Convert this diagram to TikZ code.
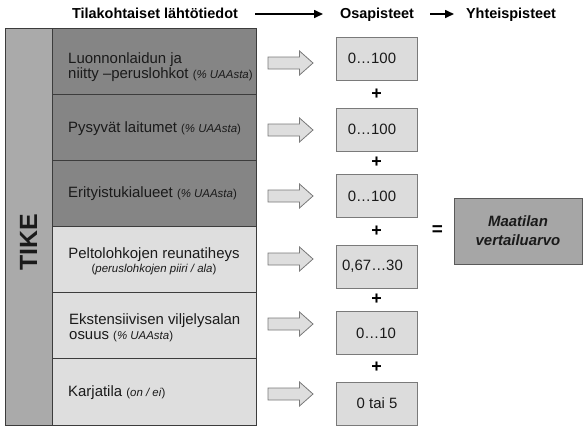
\documentclass[tikz,border=0pt]{standalone}
\usepackage{fontspec}
\setmainfont{Liberation Sans}
\usetikzlibrary{arrows.meta}
\definecolor{darkrow}{HTML}{858585}
\definecolor{lightrow}{HTML}{DEDEDE}
\definecolor{barcol}{HTML}{AAAAAA}
\definecolor{edgecol}{HTML}{3C3C3C}
\definecolor{scorefill}{HTML}{DCDCDC}
\definecolor{scoreedge}{HTML}{7A7A7A}
\definecolor{resfill}{HTML}{A6A6A6}
\definecolor{resedge}{HTML}{5A5A5A}
\definecolor{txt}{HTML}{1A1A1A}
\begin{document}
\begin{tikzpicture}[x=1bp,y=-1bp,
  rowbox/.style={draw=edgecol, line width=0.9bp, minimum width=204bp, minimum height=66.17bp, anchor=north west, inner sep=0pt, outer sep=0pt},
  darkbox/.style={rowbox, fill=darkrow},
  lightbox/.style={rowbox, fill=lightrow},
  rowtext/.style={anchor=base west, inner sep=0pt, text=txt, font=\fontsize{15}{18}\selectfont},
  rowtextc/.style={anchor=base, inner sep=0pt, text=txt, font=\fontsize{15}{18}\selectfont},
  smalltext/.style={anchor=base, inner sep=0pt, text=txt, font=\fontsize{11.5}{13}\selectfont},
  header/.style={anchor=base, inner sep=0pt, font=\fontsize{14.5}{17}\selectfont\bfseries},
  harrow/.style={line width=1.6bp, -{Triangle[length=9bp,width=8bp]}},
  scorebox/.style={draw=scoreedge, fill=scorefill, line width=0.9bp, minimum width=81bp, minimum height=43bp, inner sep=0pt},
  scoretext/.style={inner sep=0pt, text=txt, font=\fontsize{15}{18}\selectfont},
  plussign/.style={inner sep=0pt, font=\fontsize{18}{18}\selectfont\bfseries},
  barrowstyle/.style={draw=scoreedge, fill=lightrow, line width=0.8bp, line join=miter},
  barrow/.pic={\draw[barrowstyle] (-22.5,-6) -- (9,-6) -- (9,-12) -- (22.5,0) -- (9,12) -- (9,6) -- (-22.5,6) -- cycle;}
]
\useasboundingbox (0,0) rectangle (588,432);
\fill[white] (0,0) rectangle (588,432);

% header
\node[header] (h1) at (155,18) {Tilakohtaiset lähtötiedot};
\node[header] (h2) at (377,18) {Osapisteet};
\node[header] (h3) at (511,18) {Yhteispisteet};
\coordinate (ha1) at (255,14);
\coordinate (hb1) at (323,14);
\coordinate (ha2) at (430,14);
\coordinate (hb2) at (454,14);
\draw[harrow] (ha1) -- (hb1);
\draw[harrow] (ha2) -- (hb2);

% TIKE bar
\node[draw=edgecol, fill=barcol, line width=0.9bp, minimum width=47bp, minimum height=397bp, anchor=north west, inner sep=0pt, outer sep=0pt] (bar) at (5,28) {};
\node[rotate=90, inner sep=0pt, font=\fontsize{25}{26}\selectfont\bfseries, text=txt] (tike) at (28.5,242) {TIKE};

% rows
\node[darkbox] (r1) at (52,28) {};
\node[darkbox] (r2) at (52,94.17) {};
\node[darkbox] (r3) at (52,160.34) {};
\node[lightbox] (r4) at (52,226.51) {};
\node[lightbox] (r5) at (52,292.68) {};
\node[lightbox] (r6) at (52,358.85) {};

% row texts
\newcommand{\smallpct}{{\fontsize{11.5}{13}\selectfont(\textit{\% UAAsta})}}
\node[rowtext] (t1a) at (68,63) {Luonnonlaidun ja};
\node[rowtext] (t1b) at (68,78.5) {niitty –peruslohkot \smallpct};
\node[rowtext] (t2) at (68,132) {Pysyvät laitumet \smallpct};
\node[rowtext] (t3) at (68,197) {Erityistukialueet \smallpct};
\node[rowtextc] (t4a) at (154,258) {Peltolohkojen reunatiheys};
\node[smalltext] (t4b) at (154,272) {(\textit{peruslohkojen piiri / ala})};
\node[rowtext] (t5a) at (69,324) {Ekstensiivisen viljelysalan};
\node[rowtext] (t5b) at (69,339) {osuus \smallpct};
\node[rowtext] (t6) at (68,396) {Karjatila {\fontsize{11.5}{13}\selectfont(\textit{on / ei})}};

% block arrows
\path (290.5,63) pic {barrow};
\path (290.5,130) pic {barrow};
\path (290.5,196) pic {barrow};
\path (290.5,259) pic {barrow};
\path (290.5,324) pic {barrow};
\path (290.5,394) pic {barrow};

% score boxes
\node[scorebox] (s1) at (376.5,58.5) {};
\node[scorebox] (s2) at (376.5,129.5) {};
\node[scorebox] (s3) at (376.5,196) {};
\node[scorebox] (s4) at (376.5,266.5) {};
\node[scorebox] (s5) at (376.5,333) {};
\node[scorebox] (s6) at (376.5,403.5) {};
\node[scoretext] (v1) at (372,58.5) {0…100};
\node[scoretext] (v2) at (372,129.5) {0…100};
\node[scoretext] (v3) at (372,196) {0…100};
\node[scoretext] (v4) at (372.5,266.5) {0,67…30};
\node[scoretext] (v5) at (376,333) {0…10};
\node[scoretext] (v6) at (377,403.5) {0 tai 5};

% plus signs
\node[plussign] (p1) at (376.5,94) {+};
\node[plussign] (p2) at (376.5,162.5) {+};
\node[plussign] (p3) at (376.5,231) {+};
\node[plussign] (p4) at (376.5,299) {+};
\node[plussign] (p5) at (376.5,367.5) {+};

% equals and result
\node[plussign, font=\fontsize{19}{20}\selectfont\bfseries] (eq) at (437.5,231) {=};
\node[draw=resedge, fill=resfill, line width=0.9bp, minimum width=128bp, minimum height=66bp, inner sep=0pt, align=center, text=txt, font=\fontsize{15}{19}\selectfont\bfseries\itshape] (res) at (518,231) {Maatilan\\vertailuarvo};
\end{tikzpicture}
\end{document}
